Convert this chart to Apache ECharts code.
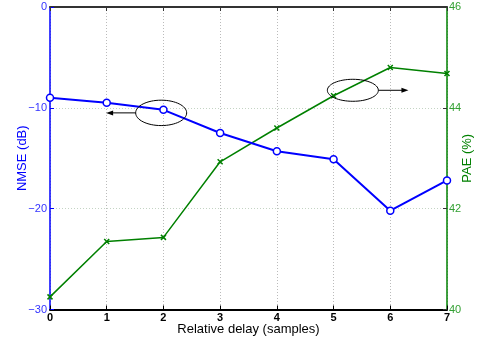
<!DOCTYPE html>
<html><head><meta charset="utf-8">
<script src="https://cdn.jsdelivr.net/npm/echarts@6/dist/echarts.min.js"></script>
<style>html,body{margin:0;padding:0;background:#fff}#c{width:483px;height:341px}</style>
</head><body><div id="c"></div>
<script>
const delays = [0, 1, 2, 3, 4, 5, 6, 7];
const nmse = [-9.0, -9.5, -10.2, -12.5, -14.3, -15.1, -20.2, -17.2];
const pae = [40.25, 41.35, 41.43, 42.93, 43.6, 44.24, 44.8, 44.68];
const xTicks = ['0','1','2','3','4','5','6','7'];
const leftTicks = [0, -10, -20, -30];
const rightTicks = [40, 42, 44, 46];
// annotation anchors (data coords: x, NMSE)
const ann1 = {cx: 1.96, cy: -10.5, arrowTo: 0.99};
const ann2 = {cx: 5.34, cy: -8.26, arrowTo: 6.32};

const font = 'Liberation Sans, Arial, Helvetica, sans-serif';
const chart = echarts.init(document.getElementById('c'), null, {renderer: 'canvas'});
const fmtMinus = v => (v < 0 ? '\u2212' + Math.abs(v) : String(v));
chart.setOption({
  animation: false,
  grid: {left: 50, right: 36, top: 7, bottom: 31.5, containLabel: false, outerBoundsMode: 'none'},
  xAxis: [{
    type: 'value', min: 0, max: 7, interval: 1, position: 'bottom',
    name: 'Relative delay (samples)', nameLocation: 'middle', nameGap: 13, nameMoveOverlap: false,
    nameTextStyle: {color: '#000', fontSize: 13, fontFamily: font},
    axisLine: {onZero: false, lineStyle: {color: '#000', width: 2}},
    axisTick: {inside: true, length: 4, lineStyle: {color: '#000'}},
    axisLabel: {color: '#000', fontSize: 11, fontWeight: 'bold', fontFamily: font, margin: 3,
      formatter: v => xTicks[v] ?? ''},
    splitLine: {show: true, lineStyle: {color: '#bbbbbb', type: [1, 2], width: 1}}
  }, {
    type: 'value', min: 0, max: 7, interval: 1, position: 'top',
    axisLine: {onZero: false, lineStyle: {color: '#333', width: 2}},
    axisTick: {inside: true, length: 4, lineStyle: {color: '#333'}},
    axisLabel: {show: false}, splitLine: {show: false}
  }],
  yAxis: [{
    type: 'value', min: -30, max: 0, interval: 10, position: 'left',
    name: 'NMSE (dB)', nameLocation: 'middle', nameGap: 21, nameMoveOverlap: false,
    nameTextStyle: {color: '#0000ff', fontSize: 13, fontFamily: font},
    axisLine: {show: true, onZero: false, lineStyle: {color: '#0000ff', width: 1.5}},
    axisTick: {show: true, inside: true, length: 4, lineStyle: {color: '#0000ff'}},
    axisLabel: {color: '#3333ff', fontSize: 11, fontFamily: font, margin: 3,
      formatter: v => leftTicks.includes(v) ? fmtMinus(v) : ''},
    splitLine: {show: true, lineStyle: {color: '#c4d4c4', type: [1, 2], width: 1}}
  }, {
    type: 'value', min: 40, max: 46, interval: 2, position: 'right',
    name: 'PAE (%)', nameLocation: 'middle', nameGap: 14, nameRotate: 90, nameMoveOverlap: false,
    nameTextStyle: {color: '#008000', fontSize: 13, fontFamily: font},
    axisLine: {show: true, onZero: false, lineStyle: {color: '#008000', width: 1.5}},
    axisTick: {show: true, inside: true, length: 4, lineStyle: {color: '#333'}},
    axisLabel: {color: '#33a033', fontSize: 11, fontFamily: font, margin: 2,
      formatter: v => rightTicks.includes(v) ? String(v) : ''},
    splitLine: {show: false}
  }],
  series: [{
    type: 'line', xAxisIndex: 0, yAxisIndex: 0,
    data: delays.map((d, i) => [d, nmse[i]]),
    symbol: 'circle', symbolSize: 7, showAllSymbol: true,
    lineStyle: {color: '#0000ff', width: 2},
    itemStyle: {color: '#ffffff', borderColor: '#0000ff', borderWidth: 1.5},
    z: 3
  }, {
    type: 'line', xAxisIndex: 0, yAxisIndex: 1,
    data: delays.map((d, i) => [d, pae[i]]),
    symbol: 'path://M0,0L10,10M10,0L0,10', symbolSize: 5, showAllSymbol: true,
    lineStyle: {color: '#008000', width: 1.5},
    itemStyle: {color: '#008000', borderColor: '#008000', borderWidth: 1.5},
    z: 2
  }]
});

function drawAnnotations() {
  const p = (x, y) => chart.convertToPixel({xAxisIndex: 0, yAxisIndex: 0}, [x, y]);
  const els = [];
  [[ann1, -1], [ann2, 1]].forEach(([a, dir]) => {
    const c = p(a.cx, a.cy);
    const rx = 25.5, ry = dir < 0 ? 12.7 : 11;
    els.push({type: 'ellipse', shape: {cx: c[0], cy: c[1], rx: rx, ry: ry},
      style: {fill: null, stroke: '#000', lineWidth: 1}, z: 10});
    const x0 = c[0] + dir * rx;
    const x1 = p(a.arrowTo, a.cy)[0];
    els.push({type: 'line', shape: {x1: x0, y1: c[1], x2: x1 - dir * 5, y2: c[1]},
      style: {stroke: '#000', lineWidth: 1}, z: 10});
    els.push({type: 'polygon', shape: {points: [[x1, c[1]], [x1 - dir * 7, c[1] - 2.5], [x1 - dir * 7, c[1] + 2.5]]},
      style: {fill: '#000'}, z: 10});
  });
  chart.setOption({graphic: els});
}
drawAnnotations();
</script></body></html>
